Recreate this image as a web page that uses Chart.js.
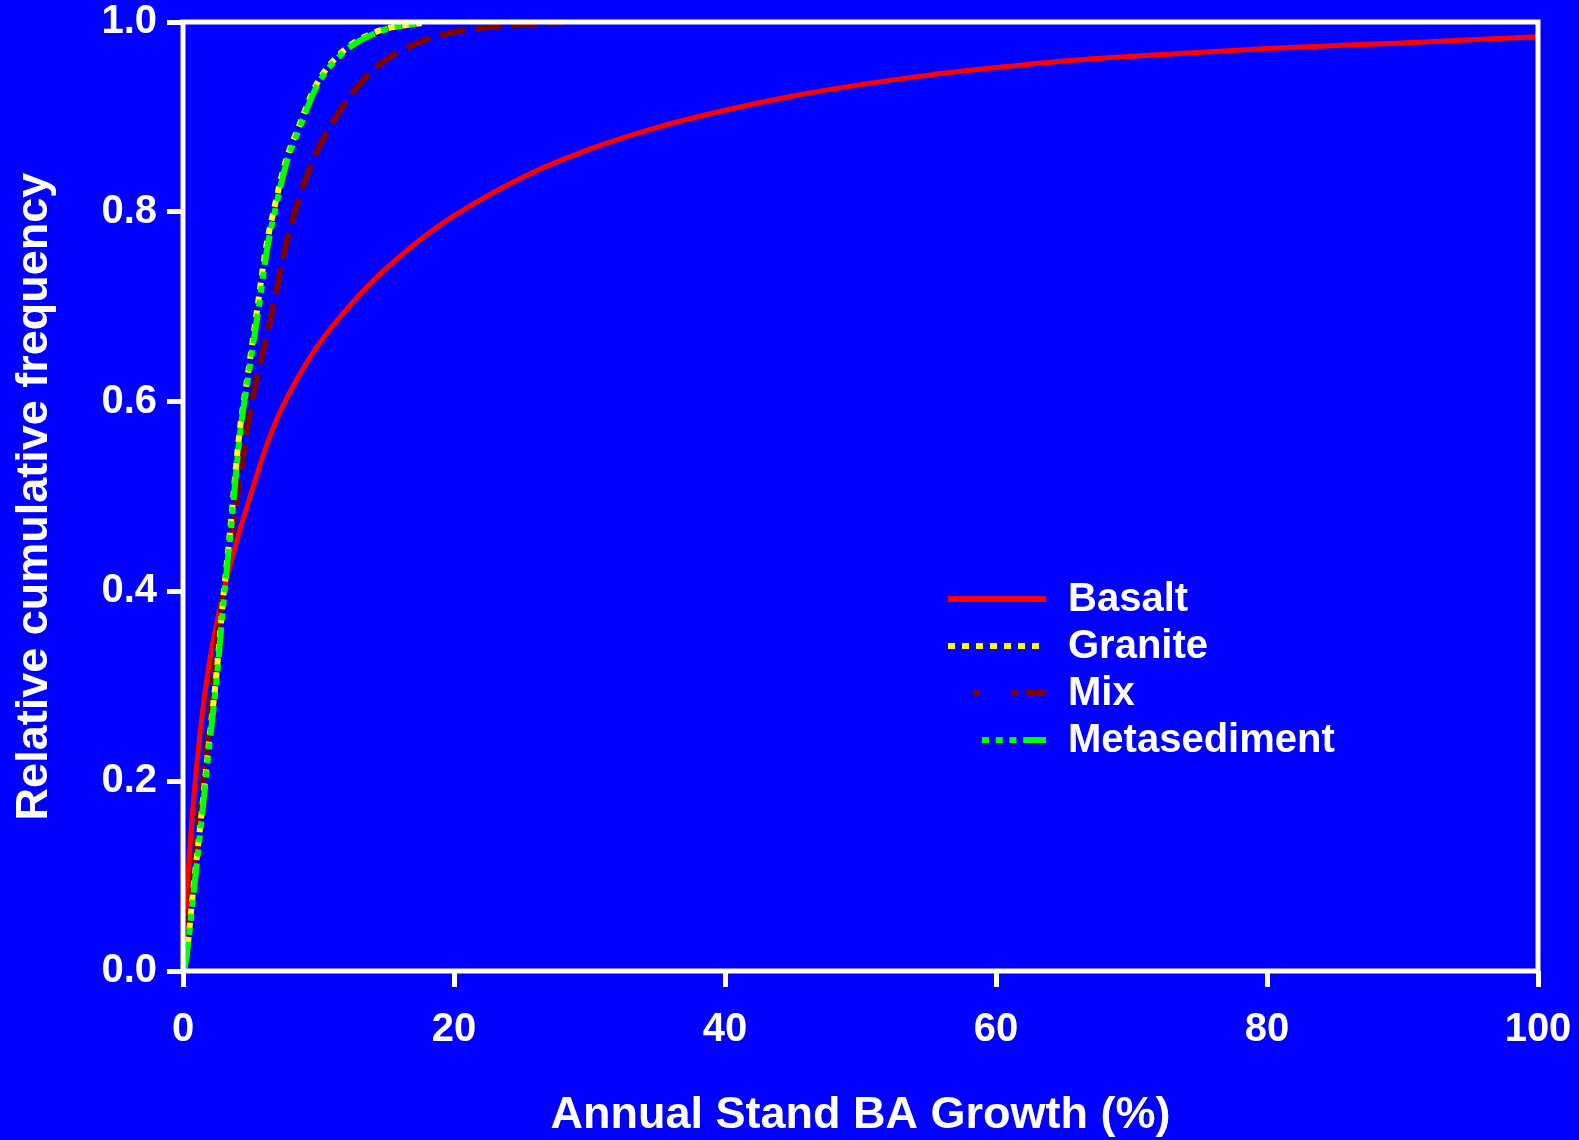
<!DOCTYPE html>
<html>

<head>
    <title>Annual Stand BA Growth</title>
    <script src="https://cdn.jsdelivr.net/npm/chart.js"></script>
    <style>
        html,
        body {
            margin: 0;
            padding: 0;
            background: #0000ff;
            overflow: hidden;
        }

        #wrap {
            width: 1579px;
            height: 1140px;
        }
    </style>
</head>

<body>
    <div id="wrap">
        <canvas id="growthChart" width="1579" height="1140"></canvas>
    </div>

    <script>
        // cumulative frequency curves, one x/y pair per rock type
        const basaltX = [0, 0.5, 1, 1.5, 2, 3, 4, 5, 6, 7, 8, 9, 10, 12, 14, 16, 18, 20, 25, 30, 35, 40, 45, 50, 55, 60, 65, 70, 80, 90, 100];
        const basaltY = [0.01, 0.13, 0.215, 0.28, 0.33, 0.40, 0.455, 0.502, 0.547, 0.584, 0.613, 0.638, 0.66, 0.696, 0.727, 0.753, 0.776, 0.796, 0.836, 0.866, 0.889, 0.907, 0.922, 0.934, 0.944, 0.952, 0.959, 0.964, 0.972, 0.978, 0.9845];

        const graniteX = [0, 0.2, 0.75, 1.25, 1.95, 2.45, 2.95, 3.45, 4.15, 4.75, 5.5, 6.1, 6.8, 7.55, 8.55, 9.8, 11.7, 14.3, 17.6];
        const graniteY = [0, 0.01, 0.085, 0.15, 0.245, 0.31, 0.39, 0.46, 0.565, 0.625, 0.70, 0.76, 0.808, 0.852, 0.89, 0.933, 0.968, 0.99, 0.999];

        const mixX = [0, 0.54, 1.28, 2.0, 2.5, 3.2, 4.0, 4.97, 5.7, 6.44, 7.67, 9.4, 10.87, 12.5, 14.3, 17.3, 20.2, 24, 28.1];
        const mixY = [0, 0.071, 0.173, 0.27, 0.345, 0.42, 0.5, 0.591, 0.64, 0.686, 0.77, 0.848, 0.89, 0.925, 0.953, 0.978, 0.99, 0.996, 0.9995];

        const metaX = [0, 0.2, 0.8, 1.3, 2, 2.5, 3, 3.5, 4.2, 4.8, 5.6, 6.2, 6.9, 7.65, 8.65, 9.9, 11.85, 14.5, 17.5];
        const metaY = [0, 0.01, 0.085, 0.15, 0.245, 0.31, 0.39, 0.46, 0.565, 0.625, 0.70, 0.76, 0.808, 0.852, 0.89, 0.933, 0.968, 0.99, 0.999];

        const xTicks = [0, 20, 40, 60, 80, 100];
        const yTicks = [0, 0.2, 0.4, 0.6, 0.8, 1.0];

        const FONT = "'Liberation Sans', Arial, Helvetica, sans-serif";
        const BLUE = '#0000ff';

        const toPoints = (xs, ys) => xs.map((x, i) => ({ x: x, y: ys[i] }));

        // legend samples: dash pattern and where the sample line starts
        const legendItems = [
            { label: 'Basalt', color: '#ff0000', dash: [], start: 0 },
            { label: 'Granite', color: '#ffff00', dash: [7, 7], start: 0 },
            { label: 'Mix', color: '#800000', dash: [7, 31, 7, 7, 22, 200], start: 25 },
            { label: 'Metasediment', color: '#00ff00', dash: [7, 6.7, 7, 6.7, 7, 6.7, 25, 200], start: 34 }
        ];

        // fixed scale size, and no extra room reserved for edge labels
        const fixSize = (prop, size) => s => {
            s[prop] = size;
            s.paddingTop = 0;
            s.paddingBottom = 0;
            s.paddingLeft = 0;
            s.paddingRight = 0;
        };

        const framePlugin = {
            id: 'frame',
            beforeDraw(chart) {
                const c = chart.ctx;
                c.save();
                c.fillStyle = BLUE;
                c.fillRect(0, 0, chart.width, chart.height);
                c.restore();
            },
            afterDraw(chart) {
                const c = chart.ctx;
                const a = chart.chartArea;
                c.save();
                // box around the plot
                c.strokeStyle = '#ffffff';
                c.lineWidth = 5;
                c.strokeRect(a.left, a.top, a.right - a.left, a.bottom - a.top);

                // legend inside the plot
                const lx = a.left + 765;
                const lw = 98;
                let ly = a.top + 577;
                c.font = 'bold 40px ' + FONT;
                c.textBaseline = 'middle';
                c.textAlign = 'left';
                legendItems.forEach(item => {
                    c.strokeStyle = item.color;
                    c.lineWidth = 6;
                    c.lineCap = 'butt';
                    c.setLineDash(item.dash);
                    c.beginPath();
                    c.moveTo(lx + item.start, ly);
                    c.lineTo(lx + lw, ly);
                    c.stroke();
                    c.setLineDash([]);
                    c.fillStyle = '#ffffff';
                    c.fillText(item.label, lx + 120, ly + 1);
                    ly += 47;
                });
                c.restore();
            }
        };

        const ctx = document.getElementById('growthChart').getContext('2d');

        new Chart(ctx, {
            type: 'line',
            data: {
                datasets: [{
                    label: 'Basalt',
                    data: toPoints(basaltX, basaltY),
                    borderColor: '#ff0000',
                    borderWidth: 5,
                    order: 3
                }, {
                    label: 'Granite',
                    data: toPoints(graniteX, graniteY),
                    borderColor: '#ffff00',
                    borderWidth: 6,
                    borderDash: [7, 7],
                    order: 1
                }, {
                    label: 'Mix',
                    data: toPoints(mixX, mixY),
                    borderColor: '#800000',
                    borderWidth: 6,
                    borderDash: [26, 10],
                    order: 2
                }, {
                    label: 'Metasediment',
                    data: toPoints(metaX, metaY),
                    borderColor: '#00ff00',
                    borderWidth: 6,
                    borderDash: [30, 7, 7, 7, 7, 7, 7, 7],
                    order: 0
                }]
            },
            options: {
                responsive: false,
                animation: false,
                events: [],
                layout: {
                    padding: { top: 22, right: 41, bottom: 0, left: 0 }
                },
                elements: {
                    point: { radius: 0 },
                    line: { cubicInterpolationMode: 'monotone', fill: false, borderCapStyle: 'butt' }
                },
                plugins: {
                    legend: { display: false },
                    tooltip: { enabled: false }
                },
                scales: {
                    x: {
                        type: 'linear',
                        min: 0,
                        max: 100,
                        afterFit: fixSize('height', 169),
                        afterBuildTicks: s => { s.ticks = xTicks.map(v => ({ value: v })); },
                        border: { display: false },
                        grid: {
                            drawOnChartArea: false,
                            drawTicks: true,
                            tickLength: 16,
                            tickWidth: 5,
                            tickColor: '#ffffff'
                        },
                        ticks: {
                            color: '#ffffff',
                            padding: 23,
                            maxRotation: 0,
                            font: { family: FONT, size: 40, weight: 'bold', lineHeight: 1 },
                            callback: v => String(v)
                        },
                        title: {
                            display: true,
                            text: 'Annual Stand BA Growth (%)',
                            color: '#ffffff',
                            font: { family: FONT, size: 45, weight: 'bold', lineHeight: 1.2 },
                            padding: { top: 0, bottom: -3 }
                        }
                    },
                    y: {
                        type: 'linear',
                        min: 0,
                        max: 1,
                        afterFit: fixSize('width', 183),
                        afterBuildTicks: s => { s.ticks = yTicks.map(v => ({ value: v })); },
                        border: { display: false },
                        grid: {
                            drawOnChartArea: false,
                            drawTicks: true,
                            tickLength: 16,
                            tickWidth: 5,
                            tickColor: '#ffffff'
                        },
                        ticks: {
                            color: '#ffffff',
                            padding: 10,
                            font: { family: FONT, size: 40, weight: 'bold', lineHeight: 1 },
                            callback: v => v.toFixed(1)
                        },
                        title: {
                            display: true,
                            text: 'Relative cumulative frequency',
                            color: '#ffffff',
                            font: { family: FONT, size: 45, weight: 'bold', lineHeight: 1.2 },
                            padding: { top: 8, bottom: 0 }
                        }
                    }
                }
            },
            plugins: [framePlugin]
        });
    </script>

</body>

</html>
